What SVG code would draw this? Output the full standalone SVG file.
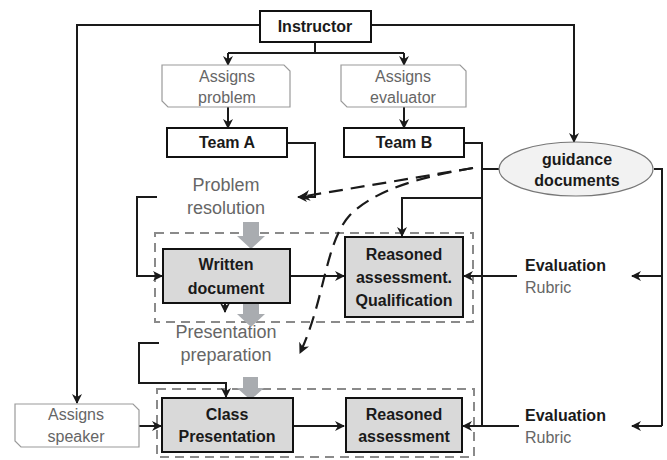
<svg xmlns="http://www.w3.org/2000/svg" width="667" height="460" viewBox="0 0 667 460">
<style>
.box{fill:#fff;stroke:#111;stroke-width:2}
.gbox{fill:#d9d9d9;stroke:#111;stroke-width:2}
.snip{fill:#fff;stroke:#9a9a9a;stroke-width:1.2}
.grp{fill:none;stroke:#8a8a8a;stroke-width:2;stroke-dasharray:9 6}
.ln{fill:none;stroke:#1a1a1a;stroke-width:2}
.arr{fill:none;stroke:#1a1a1a;stroke-width:2;marker-end:url(#ah)}
.dash{fill:none;stroke:#1a1a1a;stroke-width:2.2;stroke-dasharray:14 8;marker-end:url(#ah)}
.blk{fill:#a9acb0}
text{font-family:"Liberation Sans",Arial,sans-serif;font-size:16px;text-anchor:middle}
.b{font-weight:bold;fill:#1a1a1a}
.g{fill:#666}
.l{font-size:18px}
.st{text-anchor:start}
</style>
<defs>
<marker id="ah" viewBox="0 0 10 10" refX="9" refY="5" markerWidth="5" markerHeight="5" orient="auto" markerUnits="strokeWidth">
<path d="M0,0 L10,5 L0,10 L3,5 Z" fill="#1a1a1a"/>
</marker>
</defs>
<g id="groups">
<rect class="grp" x="155" y="233" width="318" height="89"/>
<rect class="grp" x="157" y="389" width="317" height="68"/>
</g>
<g id="block-arrows">
<path class="blk" d="M243,222 H259 V236 H265 L251,249 L237,236 H243 Z"/>
<path class="blk" d="M243,303 H259 V314 H265 L251,327 L237,314 H243 Z"/>
<path class="blk" d="M243,377 H258 V388 H264 L250.5,400 L237,388 H243 Z"/>
</g>
<g id="connectors">
<path class="arr" d="M260,25 H77 V403"/>
<path class="arr" d="M371,25 H574 V142"/>
<path class="ln" d="M315,42 V53 M228,53 H404"/>
<path class="arr" d="M228,53 V65"/>
<path class="arr" d="M404,53 V65"/>
<path class="arr" d="M228,107 V128"/>
<path class="arr" d="M404,107 V128"/>
<path class="arr" d="M287,143 H315 V197 H298"/>
<path class="ln" d="M464,143 H482 V426 M482,169 H499"/>
<path class="arr" d="M482,198 H402 V236"/>
<path class="ln" d="M654,169 H662 V426"/>
<path class="arr" d="M662,426 H632"/>
<path class="arr" d="M662,276 H632"/>
<path class="arr" d="M517,276 H464"/>
<path class="arr" d="M519,426 H463"/>
<path class="arr" d="M157,197 H137 V276 H162"/>
<path class="arr" d="M290,276 H344"/>
<path class="arr" d="M159,343 H139 V383 H226 V397"/>
<path class="arr" d="M139,426 H161"/>
<path class="arr" d="M293,426 H344"/>
<path class="arr" d="M225,304 V312"/>
<path class="dash" d="M473,168 L300,197"/>
<path class="dash" d="M473,168 C420,177 375,190 350,215 C325,242 325,300 300,353"/>
</g>
<g id="instructor">
<rect class="box" x="260" y="11" width="111" height="31"/>
<text class="b" x="315" y="32">Instructor</text>
</g>
<g id="assigns-problem">
<path class="snip" d="M162,65 H284 L290,71 V107 H168 L162,101 Z"/>
<text class="g" x="227" y="82">Assigns</text>
<text class="g" x="227" y="103">problem</text>
</g>
<g id="assigns-evaluator">
<path class="snip" d="M341,65 H460 L466,71 V107 H347 L341,101 Z"/>
<text class="g" x="403" y="82">Assigns</text>
<text class="g" x="403" y="103">evaluator</text>
</g>
<g id="team-a">
<rect class="box" x="167" y="128" width="120" height="29"/>
<text class="b" x="227" y="148">Team A</text>
</g>
<g id="team-b">
<rect class="box" x="344" y="128" width="120" height="29"/>
<text class="b" x="404" y="148">Team B</text>
</g>
<g id="guidance">
<ellipse cx="576" cy="169" rx="77" ry="27" fill="#f2f2f2" stroke="#777" stroke-width="1.2"/>
<text class="b" x="577" y="165">guidance</text>
<text class="b" x="577" y="186">documents</text>
</g>
<g id="problem-resolution">
<text class="g l" x="226" y="191">Problem</text>
<text class="g l" x="226" y="214">resolution</text>
</g>
<g id="written-document">
<rect class="gbox" x="163" y="249" width="127" height="54"/>
<text class="b" x="226" y="270">Written</text>
<text class="b" x="226" y="294">document</text>
</g>
<g id="reasoned-qualification">
<rect class="gbox" x="345" y="237" width="118" height="80"/>
<text class="b" x="404" y="260">Reasoned</text>
<text class="b" x="404" y="283">assessment.</text>
<text class="b" x="404" y="306">Qualification</text>
</g>
<g id="evaluation-1">
<text class="b st" x="525" y="271">Evaluation</text>
<text class="g st" x="525" y="293">Rubric</text>
</g>
<g id="presentation-preparation">
<text class="g l" x="226" y="338">Presentation</text>
<text class="g l" x="226" y="361">preparation</text>
</g>
<g id="assigns-speaker">
<path class="snip" d="M15,404 H133 L139,410 V447 H21 L15,441 Z"/>
<text class="g" x="76" y="420">Assigns</text>
<text class="g" x="76" y="442">speaker</text>
</g>
<g id="class-presentation">
<rect class="gbox" x="162" y="398" width="131" height="54"/>
<text class="b" x="227" y="420">Class</text>
<text class="b" x="227" y="442">Presentation</text>
</g>
<g id="reasoned-assessment">
<rect class="gbox" x="346" y="398" width="116" height="54"/>
<text class="b" x="404" y="420">Reasoned</text>
<text class="b" x="404" y="442">assessment</text>
</g>
<g id="evaluation-2">
<text class="b st" x="525" y="421">Evaluation</text>
<text class="g st" x="525" y="443">Rubric</text>
</g>
</svg>
